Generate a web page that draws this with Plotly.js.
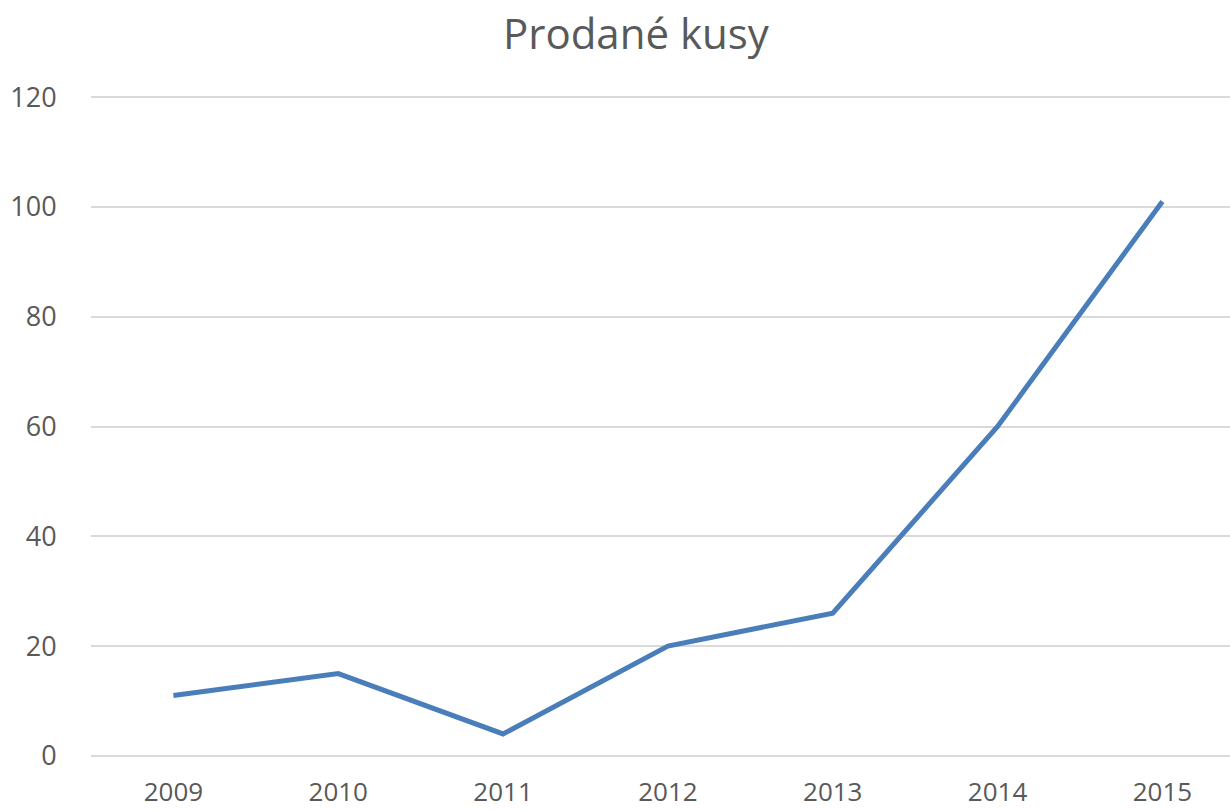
<!DOCTYPE html>
<html>
<head>
<meta charset="utf-8">
<script src="https://cdn.plot.ly/plotly-3.0.1.min.js"></script>
<style>html,body{margin:0;padding:0;background:#fff;}#chart{width:1230px;height:811px;}</style>
</head>
<body>
<div id="chart"></div>
<script>
const years = ['2009','2010','2011','2012','2013','2014','2015'];
const units = [11, 15, 4, 20, 26, 60, 101];
const yTicks = [0, 20, 40, 60, 80, 100, 120];

Plotly.newPlot('chart', [{
  x: years,
  y: units,
  type: 'scatter',
  mode: 'lines',
  line: {color: '#4a7ebb', width: 5}
}], {
  width: 1230, height: 811,
  margin: {l: 91, r: 0, t: 96, b: 54},
  paper_bgcolor: '#fff', plot_bgcolor: '#fff',
  font: {family: 'Open Sans, sans-serif', color: '#595959'},
  title: {text: 'Prodané kusy', font: {size: 42, color: '#595959', family: 'Open Sans, sans-serif'}, x: 0.517, xanchor: 'center', y: 0.958, yanchor: 'middle'},
  showlegend: false,
  xaxis: {
    type: 'category',
    range: [-0.5, 6.41],
    showgrid: false, zeroline: false, showline: false,
    ticks: 'outside', ticklen: 12, tickcolor: 'rgba(0,0,0,0)',
    tickfont: {size: 26, color: '#595959'}
  },
  yaxis: {
    range: [-0.2, 120.2],
    tickvals: yTicks,
    showgrid: true, gridcolor: '#d9d9d9', gridwidth: 2,
    zeroline: false, showline: false,
    ticks: 'outside', ticklen: 28, tickcolor: 'rgba(0,0,0,0)',
    tickfont: {size: 27, color: '#595959'}
  }
}, {displayModeBar: false, staticPlot: true});
</script>
</body>
</html>
